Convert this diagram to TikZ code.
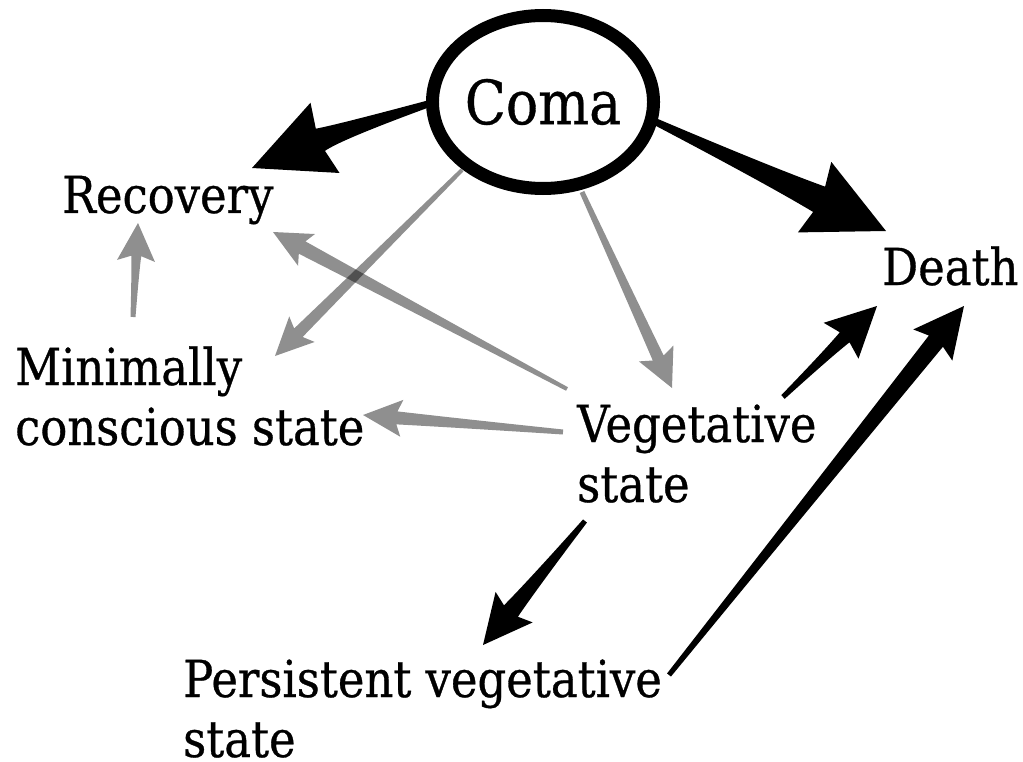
\documentclass[tikz,border=0pt]{standalone}
\usepackage{fontspec}
\setmainfont{DejaVu Serif}[FakeStretch=0.88,FakeBold=0.6]
\usetikzlibrary{calc,shapes.geometric}
% #1 style, #2 start, #3 tip, #4 tail half width, #5 neck half width,
% #6 head half width, #7 head length, #8 bend, #9 barb sweep
\newcommand\tarrow[9]{%
  \coordinate (tpM) at ($(#2)!0.5!(#3)$);
  \coordinate (tpC) at ($(tpM)!#8pt!90:(#3)$);
  \coordinate (tpN) at ($(#3)!#7pt!(tpC)$);
  \coordinate (tpB) at ($(#3)!{#7pt+#9pt}!(tpC)$);
  \coordinate (tpA1) at ($(#2)!#4pt!90:(tpC)$);
  \coordinate (tpA2) at ($(#2)!#4pt!-90:(tpC)$);
  \coordinate (tpN1) at ($(tpN)!#5pt!90:(#3)$);
  \coordinate (tpN2) at ($(tpN)!#5pt!-90:(#3)$);
  \coordinate (tpB1) at ($(tpB)!#6pt!90:(#3)$);
  \coordinate (tpB2) at ($(tpB)!#6pt!-90:(#3)$);
  \coordinate (tpCL) at ($(tpC)!{(#4pt+#5pt)/2}!90:(#3)$);
  \coordinate (tpCR) at ($(tpC)!{(#4pt+#5pt)/2}!-90:(#3)$);
  \fill[#1] (tpA1) .. controls ($(tpA1)!0.667!(tpCL)$) and ($(tpN1)!0.667!(tpCL)$) .. (tpN1)
    -- (tpB1) -- (#3) -- (tpB2) -- (tpN2)
    .. controls ($(tpN2)!0.667!(tpCR)$) and ($(tpA2)!0.667!(tpCR)$) .. (tpA2) -- cycle;
}
\tikzset{
  lbl/.style={font=\fontsize{51}{60}\selectfont, inner sep=0pt, anchor=base west},
  blackarrow/.style={fill=black},
  grayarrow/.style={fill=black, fill opacity=0.44},
}
\begin{document}
\begin{tikzpicture}[x=1pt,y=-1pt]
\useasboundingbox (0,0) rectangle (1023,762);

% arrow end points
\coordinate (cr-s) at (428,104);  \coordinate (cr-t) at (252,168);
\coordinate (cd-s) at (656,122);  \coordinate (cd-t) at (886,231);
\coordinate (cm-s) at (462,170);  \coordinate (cm-t) at (275,356);
\coordinate (cv-s) at (582,192);  \coordinate (cv-t) at (672,388);
\coordinate (vr-s) at (567,389);  \coordinate (vr-t) at (273,232);
\coordinate (vm-s) at (563,432);  \coordinate (vm-t) at (363,415);
\coordinate (mr-s) at (133,317);  \coordinate (mr-t) at (138,223);
\coordinate (vd-s) at (783,397);  \coordinate (vd-t) at (877,306);
\coordinate (pd-s) at (669,675);  \coordinate (pd-t) at (964,306);
\coordinate (vp-s) at (585,521);  \coordinate (vp-t) at (483,645);

% gray arrows
\tarrow{grayarrow}{cm-s}{cm-t}{2}{6}{18}{33}{0}{5}
\tarrow{grayarrow}{cv-s}{cv-t}{2.5}{6}{19}{33}{0}{5}
\tarrow{grayarrow}{vr-s}{vr-t}{2}{7}{18}{33}{0}{5}
\tarrow{grayarrow}{vm-s}{vm-t}{2.5}{6.5}{18.5}{34}{0}{5}
\tarrow{grayarrow}{mr-s}{mr-t}{2.5}{5}{19}{33}{0}{5}

% black arrows
\tarrow{blackarrow}{cr-s}{cr-t}{3.5}{12}{38}{74}{-4}{5}
\tarrow{blackarrow}{cd-s}{cd-t}{3.5}{14}{39}{74}{0}{5}
\tarrow{blackarrow}{vd-s}{vd-t}{2.5}{7}{25}{45}{0}{5}
\tarrow{blackarrow}{pd-s}{pd-t}{2.5}{9}{25}{45}{0}{5}
\tarrow{blackarrow}{vp-s}{vp-t}{2.5}{9}{24}{44}{0}{5}

% Coma
\node[ellipse, draw, line width=13pt, fill=white, minimum width=219pt, minimum height=173pt,
      inner sep=0pt, font=\fontsize{61}{60}\selectfont] (coma) at (543,102) {Coma};

% labels
\node[lbl] (rec) at (62,213) {Recovery};
\node[lbl] (death) at (882,285) {Death};
\node[lbl] (mcs) at (15,385) {\vtop{\hbox{Minimally}\hbox{conscious state}}};
\node[lbl] (veg) at (577,442) {\vtop{\hbox{Vegetative}\hbox{state}}};
\node[lbl] (pvs) at (183,697) {\vtop{\hbox{Persistent vegetative}\hbox{state}}};
\end{tikzpicture}
\end{document}
